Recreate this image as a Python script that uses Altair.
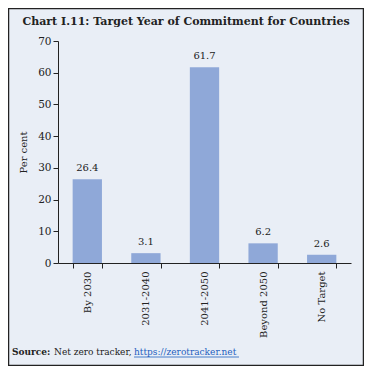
import altair as alt
import pandas as pd

categories = ["By 2030", "2031-2040", "2041-2050", "Beyond 2050", "No Target"]
values = [26.4, 3.1, 61.7, 6.2, 2.6]
y_ticks = [0, 10, 20, 30, 40, 50, 60, 70]
title_text = "Chart I.11: Target Year of Commitment for Countries"
source_label = "Source:"
source_text = "Net zero tracker,"
source_link = "https://zerotracker.net"
y_title = "Per cent"

df = pd.DataFrame({"cat": categories, "val": values})

BG = "#e9eef6"
BAR = "#8fa8d8"
SERIF = "DejaVu Serif"

W, H = 293, 222

xenc = alt.X("cat:N", sort=categories, title=None,
             scale=alt.Scale(paddingInner=0.5, paddingOuter=0.25),
             axis=alt.Axis(labelAngle=-90, tickBand="extent", tickSize=5,
                           labelPadding=3, labelFont=SERIF, labelFontSize=10,
                           labelColor="#222", domainColor="#222", tickColor="#222"))
yenc = alt.Y("val:Q", title=y_title,
             scale=alt.Scale(domain=[0, 70], nice=False),
             axis=alt.Axis(values=y_ticks, grid=False, labelOverlap=False,
                           tickSize=5, labelPadding=2, labelFont=SERIF,
                           labelFontSize=10.5, labelColor="#222",
                           titleFont=SERIF, titleFontSize=10, titleFontWeight="normal",
                           titleColor="#222", titlePadding=9,
                           domainColor="#222", tickColor="#222"))

base = alt.Chart(df)

bars = base.mark_bar(color=BAR).encode(x=xenc, y=yenc)

labels = base.mark_text(baseline="bottom", dy=-6, font=SERIF, fontSize=10,
                        color="#222").encode(
    x=xenc, y=yenc,
    text=alt.Text("val:Q", format=".1f"),
)

one = pd.DataFrame({"t": [title_text], "s": [source_label], "n": [source_text],
                    "l": [source_link]})
single = alt.Chart(one)

title = single.mark_text(font=SERIF, fontSize=11, fontWeight="bold", color="#222",
                         align="center", baseline="alphabetic").encode(
    x=alt.value(128), y=alt.value(-16), text="t:N")

src1 = single.mark_text(font=SERIF, fontSize=9, fontWeight="bold", color="#222",
                        align="left", baseline="alphabetic").encode(
    x=alt.value(-46), y=alt.value(314), text="s:N")
src2 = single.mark_text(font=SERIF, fontSize=9, color="#222",
                        align="left", baseline="alphabetic").encode(
    x=alt.value(-4), y=alt.value(314), text="n:N")
src3 = single.mark_text(font=SERIF, fontSize=9, color="#1f5fbf",
                        align="left", baseline="alphabetic").encode(
    x=alt.value(76), y=alt.value(314), text="l:N")
underline = single.mark_rule(color="#1f5fbf", strokeWidth=0.8).encode(
    x=alt.value(76), x2=alt.value(181), y=alt.value(316))

frame = single.mark_rect(fill=None, stroke="#222", strokeWidth=1.5).encode(
    x=alt.value(-49.5), x2=alt.value(305.5), y=alt.value(-32.5), y2=alt.value(324.5))

chart = alt.layer(bars, labels, title, src1, src2, src3, underline, frame).properties(
    width=W, height=H,
    autosize=alt.AutoSizeParams(type="none"),
    padding={"left": 50, "top": 33, "right": 13, "bottom": 103},
    background=BG,
).configure_view(stroke=None)

chart.save("out.html", embed_options={"renderer": "svg", "actions": False})
